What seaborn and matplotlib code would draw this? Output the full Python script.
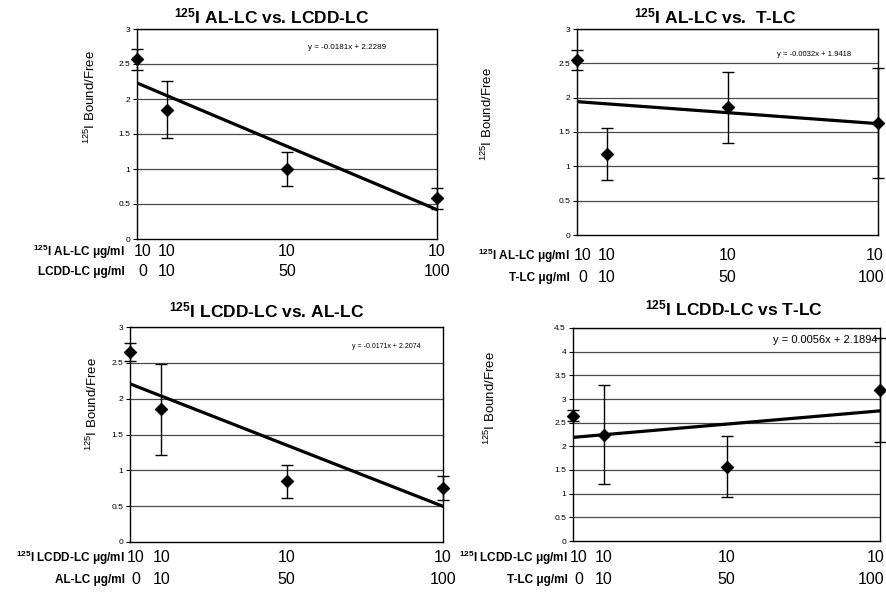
import numpy as np
import pandas as pd
import matplotlib
matplotlib.use("Agg")
import matplotlib.pyplot as plt
import matplotlib.transforms as mtransforms
import seaborn as sns

sns.set_style("white")
plt.rcParams['font.family'] = ['Liberation Sans', 'DejaVu Sans']
plt.rcParams['mathtext.fontset'] = 'custom'
plt.rcParams['mathtext.rm'] = 'Liberation Sans'
plt.rcParams['mathtext.it'] = 'Liberation Sans:italic'
plt.rcParams['mathtext.bf'] = 'Liberation Sans:bold'
plt.rcParams['text.color'] = 'black'
plt.rcParams['axes.labelcolor'] = 'black'
plt.rcParams['ytick.color'] = 'black'
plt.rcParams['xtick.color'] = 'black'

# ---------------- data ----------------
conc = [0, 10, 50, 100]
tracer = [10, 10, 10, 10]

titles = [r"$^{\mathbf{125}}$I AL-LC vs. LCDD-LC", r"$^{\mathbf{125}}$I AL-LC vs.  T-LC",
          r"$^{\mathbf{125}}$I LCDD-LC vs. AL-LC", r"$^{\mathbf{125}}$I LCDD-LC vs T-LC"]
row1_labels = [r"$^{\mathbf{125}}$I AL-LC μg/ml", r"$^{\mathbf{125}}$I AL-LC μg/ml",
               r"$^{\mathbf{125}}$I LCDD-LC μg/ml", r"$^{\mathbf{125}}$I LCDD-LC μg/ml"]
row2_labels = ["LCDD-LC μg/ml", "T-LC μg/ml", "AL-LC μg/ml", "T-LC μg/ml"]
ylabel = r"$^{125}$I Bound/Free"

p1_mean = [2.57, 1.85, 1.00, 0.58]
p1_err = [0.15, 0.405, 0.24, 0.15]
p2_mean = [2.55, 1.18, 1.86, 1.63]
p2_err = [0.14, 0.38, 0.515, 0.795]
p3_mean = [2.65, 1.85, 0.85, 0.75]
p3_err = [0.12, 0.635, 0.23, 0.165]
p4_mean = [2.65, 2.25, 1.57, 3.19]
p4_err = [0.11, 1.05, 0.64, 1.09]

slopes = [-0.0181, -0.0032, -0.0171, 0.0056]
intercepts = [2.2289, 1.9418, 2.2074, 2.1894]
equations = ["y = -0.0181x + 2.2289", "y = -0.0032x + 1.9418",
             "y = -0.0171x + 2.2074", "y = 0.0056x + 2.1894"]
ymax = [3, 3, 3, 4.5]

means = [p1_mean, p2_mean, p3_mean, p4_mean]
errs = [p1_err, p2_err, p3_err, p4_err]

# ---------------- layout ----------------
W, H = 886, 592
fig = plt.figure(figsize=(W / 100, H / 100), dpi=100)

# axes boxes in pixels: left, top, right, bottom
boxes = [(137, 29, 437, 239), (577, 29, 878, 235),
         (130, 327, 443, 542), (573, 328, 880, 541)]
ylab_pos = [(-0.13, 0.676), (-0.273, 0.587), (-0.096, 0.64), (-0.244, 0.67)]
title_pos = [(0.45, 3), (0.458, 3), (0.437, 7), (0.524, 10)]
eq_pos = [(0.57, 0.91, 5.8), (0.665, 0.874, 5.5), (0.71, 0.907, 5.0), (0.65, 0.943, 8.0)]
row_off = [(-13, -33, -12), (-21, -43, -7), (-16, -38, -5), (-17, -39, -5)]
edge_clip = [False, True, False, True]

px = 0.72  # points per pixel

for i in range(4):
    l, t, r, b = boxes[i]
    ax = fig.add_axes([l / W, 1 - b / H, (r - l) / W, (b - t) / H])
    ax.set_xlim(0, 100)
    ax.set_ylim(0, ymax[i])
    ticks = np.arange(0, ymax[i] + 0.01, 0.5)
    ax.set_yticks(ticks)
    ax.set_yticklabels([("%g" % v) for v in ticks], fontsize=6)
    ax.set_xticks([])
    ax.tick_params(axis='y', length=3, width=0.8, pad=2, left=True, direction='out')
    for v in ticks[1:]:
        ax.axhline(v, color='#4a4a4a', lw=0.9, zorder=1)
    for s in ax.spines.values():
        s.set_color('black')
        s.set_linewidth(1.0)

    df = pd.DataFrame({"conc": conc, "mean": means[i], "err": errs[i]})
    ax.errorbar(df["conc"], df["mean"], yerr=df["err"], fmt='none',
                ecolor='black', elinewidth=1.0, capsize=4.5, capthick=1.0,
                clip_on=False, zorder=4)
    sns.scatterplot(data=df, x="conc", y="mean", marker='D', color='black',
                    s=42, edgecolor='black', ax=ax, zorder=5, clip_on=False,
                    legend=False)
    fit = pd.DataFrame({"x": [conc[0], conc[-1]],
                        "y": [intercepts[i] + slopes[i] * conc[0],
                              intercepts[i] + slopes[i] * conc[-1]]})
    sns.lineplot(data=fit, x="x", y="y", color='black', lw=2.3, ax=ax, zorder=3)

    ax.set_xlabel("")
    ax.set_ylabel(ylabel, fontsize=9.5)
    ax.yaxis.set_label_coords(*ylab_pos[i])

    tx, toff = title_pos[i]
    ax.text(tx, 1, titles[i], ha='center', va='bottom', fontsize=12.5,
            fontweight='bold',
            transform=ax.transAxes + mtransforms.ScaledTranslation(0, toff / 100, fig.dpi_scale_trans))

    ex, ey, efs = eq_pos[i]
    ax.text(ex, ey, equations[i], transform=ax.transAxes, ha='left',
            va='center', fontsize=efs, zorder=6)

    o1, o2, ol = row_off[i]
    for lab, oy in ((row1_labels[i], o1), (row2_labels[i], o2)):
        ax.annotate(lab, xy=(0, 0), xycoords='axes fraction',
                    xytext=(ol * px, oy * px), textcoords='offset points',
                    ha='right', va='center', fontsize=8.5, fontweight='bold',
                    annotation_clip=False)
    for j, xv in enumerate(conc):
        dx = 6 * px if j == 0 else 0
        ha = 'center'
        if j == len(conc) - 1 and edge_clip[i]:
            ha = 'right'
            dx = (W - 2 - r) * px
        for val, oy in ((tracer[j], o1), (xv, o2)):
            ax.annotate(str(val), xy=(xv, 0), xycoords=('data', 'axes fraction'),
                        xytext=(dx, oy * px), textcoords='offset points',
                        ha=ha, va='center', fontsize=11.5, annotation_clip=False)

fig.savefig("out.png", dpi=100)
